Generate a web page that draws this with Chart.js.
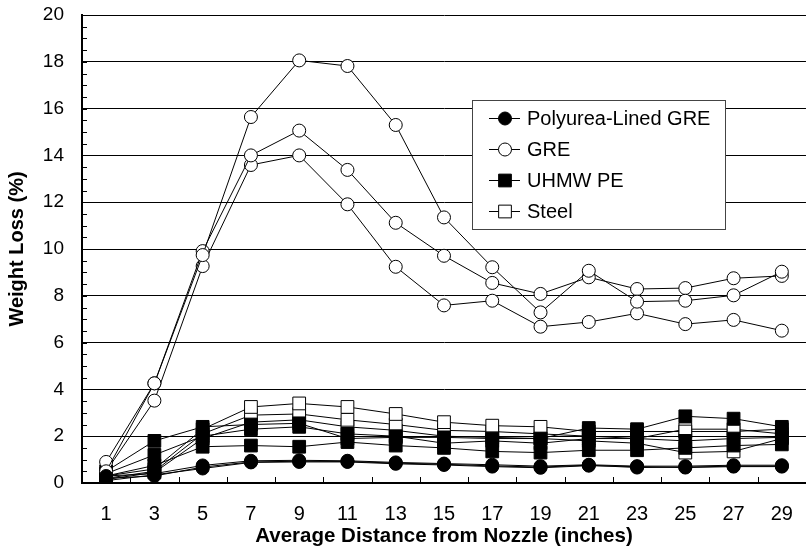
<!DOCTYPE html>
<html>
<head>
<meta charset="utf-8">
<script src="https://cdn.jsdelivr.net/npm/chart.js@4"></script>
<style>
  html, body { margin: 0; padding: 0; background: #fff; overflow: hidden; }
  canvas { display: block; }
</style>
</head>
<body>
<canvas id="lossChart" width="812" height="556"></canvas>
<script>
// x categories (inches)
const distances = ['1', '3', '5', '7', '9', '11', '13', '15', '17', '19', '21', '23', '25', '27', '29'];

// Polyurea-Lined GRE (3 runs)
const polyurea1 = [0.30, 0.40, 0.75, 0.95, 0.97, 0.95, 0.88, 0.83, 0.78, 0.72, 0.78, 0.72, 0.72, 0.76, 0.76];
const polyurea2 = [0.20, 0.30, 0.68, 0.90, 0.93, 0.92, 0.85, 0.80, 0.73, 0.68, 0.76, 0.66, 0.68, 0.72, 0.72];
const polyurea3 = [0.10, 0.35, 0.62, 0.88, 0.90, 0.90, 0.82, 0.77, 0.70, 0.65, 0.74, 0.70, 0.66, 0.70, 0.70];

// GRE (3 runs)
const gre1 = [0.50, 4.26, 9.74, 15.64, 18.06, 17.82, 15.30, 11.35, 9.22, 7.29, 9.07, 7.75, 7.79, 8.02, 9.03];
const gre2 = [0.90, 4.26, 9.91, 14.00, 15.06, 13.38, 11.12, 9.71, 8.55, 8.08, 8.79, 8.29, 8.33, 8.75, 8.85];
const gre3 = [0.50, 3.52, 9.27, 13.59, 14.00, 11.91, 9.24, 7.59, 7.79, 6.68, 6.88, 7.25, 6.79, 6.97, 6.51];

// UHMW PE (3 runs)
const uhmw1 = [0.50, 1.80, 2.40, 2.50, 2.55, 1.90, 1.95, 1.95, 1.90, 1.90, 2.35, 2.30, 2.85, 2.75, 2.40];
const uhmw2 = [0.40, 1.20, 2.00, 2.30, 2.40, 2.10, 2.00, 1.70, 1.80, 1.70, 1.90, 1.90, 1.80, 1.90, 1.95];
const uhmw3 = [0.30, 0.75, 1.55, 1.60, 1.55, 1.75, 1.60, 1.50, 1.35, 1.30, 1.40, 1.40, 1.50, 1.60, 1.65];

// Steel (3 runs)
const steel1 = [0.30, 0.60, 2.30, 3.25, 3.40, 3.25, 2.95, 2.60, 2.45, 2.40, 2.20, 2.20, 2.20, 2.20, 2.30];
const steel2 = [0.20, 0.50, 2.10, 2.90, 2.95, 2.70, 2.50, 2.25, 2.20, 2.10, 2.00, 1.90, 2.30, 2.30, 2.10];
const steel3 = [0.15, 0.45, 1.90, 2.60, 2.70, 2.40, 2.25, 2.00, 1.95, 1.90, 1.80, 1.70, 1.30, 1.35, 1.90];

const FONT = 'Liberation Sans, Arial, sans-serif';

const styles = {
    polyurea: { label: 'Polyurea-Lined GRE', pointStyle: 'circle', pointRadius: 6.5, fill: '#000' },
    gre:      { label: 'GRE',                pointStyle: 'circle', pointRadius: 6.5, fill: '#fff' },
    uhmw:     { label: 'UHMW PE',            pointStyle: 'rect',   pointRadius: 9,   fill: '#000' },
    steel:    { label: 'Steel',              pointStyle: 'rect',   pointRadius: 9,   fill: '#fff' }
};

function makeSet(key, data, first) {
    const s = styles[key];
    return {
        label: s.label,
        data: data,
        group: key,
        inLegend: first,
        borderColor: '#000',
        borderWidth: 1,
        pointStyle: s.pointStyle,
        pointRadius: s.pointRadius,
        pointHoverRadius: s.pointRadius,
        pointBackgroundColor: s.fill,
        pointBorderColor: '#000',
        pointBorderWidth: 1,
        fill: false,
        tension: 0
    };
}

const datasets = [
    makeSet('polyurea', polyurea1, true),
    makeSet('polyurea', polyurea2, false),
    makeSet('polyurea', polyurea3, false),
    makeSet('gre', gre1, true),
    makeSet('gre', gre2, false),
    makeSet('gre', gre3, false),
    makeSet('uhmw', uhmw1, true),
    makeSet('uhmw', uhmw2, false),
    makeSet('uhmw', uhmw3, false),
    makeSet('steel', steel1, true),
    makeSet('steel', steel2, false),
    makeSet('steel', steel3, false)
];

// small inward tick marks on both axes
const innerTicks = {
    id: 'innerTicks',
    beforeDatasetsDraw(chart) {
        const { ctx, chartArea, scales } = chart;
        ctx.save();
        ctx.strokeStyle = '#000';
        ctx.lineWidth = 1;
        ctx.beginPath();
        for (let v = 0; v <= 20; v += 0.5) {
            const y = Math.round(scales.y.getPixelForValue(v)) + 0.5;
            ctx.moveTo(chartArea.left, y);
            ctx.lineTo(chartArea.left + 5, y);
        }
        for (let i = 1; i < distances.length; i++) {
            const x = Math.round((scales.x.getPixelForValue(i - 1) + scales.x.getPixelForValue(i)) / 2) + 0.5;
            ctx.moveTo(x, chartArea.bottom);
            ctx.lineTo(x, chartArea.bottom - 6);
        }
        ctx.stroke();
        ctx.restore();
    }
};

// boxed legend inside the plot, line + marker samples
const boxLegend = {
    id: 'boxLegend',
    afterDraw(chart) {
        const { ctx } = chart;
        const items = chart.data.datasets.filter(d => d.inLegend);
        const box = { x: 472, y: 100, w: 253, h: 129 };
        ctx.save();
        ctx.fillStyle = '#fff';
        ctx.fillRect(box.x, box.y, box.w, box.h);
        ctx.strokeStyle = '#444';
        ctx.lineWidth = 1;
        ctx.strokeRect(box.x + 0.5, box.y + 0.5, box.w, box.h);
        ctx.font = '20px ' + FONT;
        ctx.textBaseline = 'middle';
        items.forEach((d, i) => {
            const y = 118 + i * 31;
            ctx.strokeStyle = '#000';
            ctx.beginPath();
            ctx.moveTo(489, y + 0.5);
            ctx.lineTo(520, y + 0.5);
            ctx.stroke();
            ctx.fillStyle = d.pointBackgroundColor;
            Chart.helpers.drawPoint(ctx, {
                pointStyle: d.pointStyle,
                radius: d.pointStyle === 'rect' ? 9 : 6.5,
                borderWidth: 1
            }, 505, y + 0.5);
            ctx.fillStyle = '#000';
            ctx.fillText(d.label, 527, y + 1);
        });
        ctx.restore();
    }
};

const ctx = document.getElementById('lossChart').getContext('2d');
new Chart(ctx, {
    type: 'line',
    data: { labels: distances, datasets: datasets },
    options: {
        responsive: false,
        animation: false,
        layout: { autoPadding: false, padding: { top: 15, right: 1, left: 0, bottom: 0 } },
        plugins: {
            legend: { display: false },
            tooltip: { enabled: false }
        },
        scales: {
            x: {
                offset: true,
                grid: { display: false, drawTicks: false },
                border: { color: '#000', width: 2 },
                ticks: {
                    color: '#000',
                    font: { family: FONT, size: 20 },
                    padding: 19,
                    maxRotation: 0,
                    autoSkip: false
                },
                title: {
                    display: true,
                    text: 'Average Distance from Nozzle (inches)',
                    color: '#000',
                    font: { family: FONT, size: 20.5, weight: 'bold' },
                    padding: { top: 0, bottom: 7 }
                },
                afterFit(scale) { scale.height = 73; }
            },
            y: {
                min: 0,
                max: 20,
                grid: {
                    color: '#000',
                    lineWidth: 1,
                    drawTicks: true,
                    tickLength: 18,
                    tickColor: 'rgba(0,0,0,0)'
                },
                border: { color: '#000', width: 2 },
                ticks: {
                    stepSize: 2,
                    color: '#000',
                    font: { family: FONT, size: 19 },
                    padding: 0
                },
                title: {
                    display: true,
                    text: 'Weight Loss (%)',
                    color: '#000',
                    font: { family: FONT, size: 20, weight: 'bold' },
                    padding: { top: 5, bottom: 0 }
                },
                afterFit(scale) { scale.width = 82; }
            }
        }
    },
    plugins: [innerTicks, boxLegend]
});
</script>
</body>
</html>
